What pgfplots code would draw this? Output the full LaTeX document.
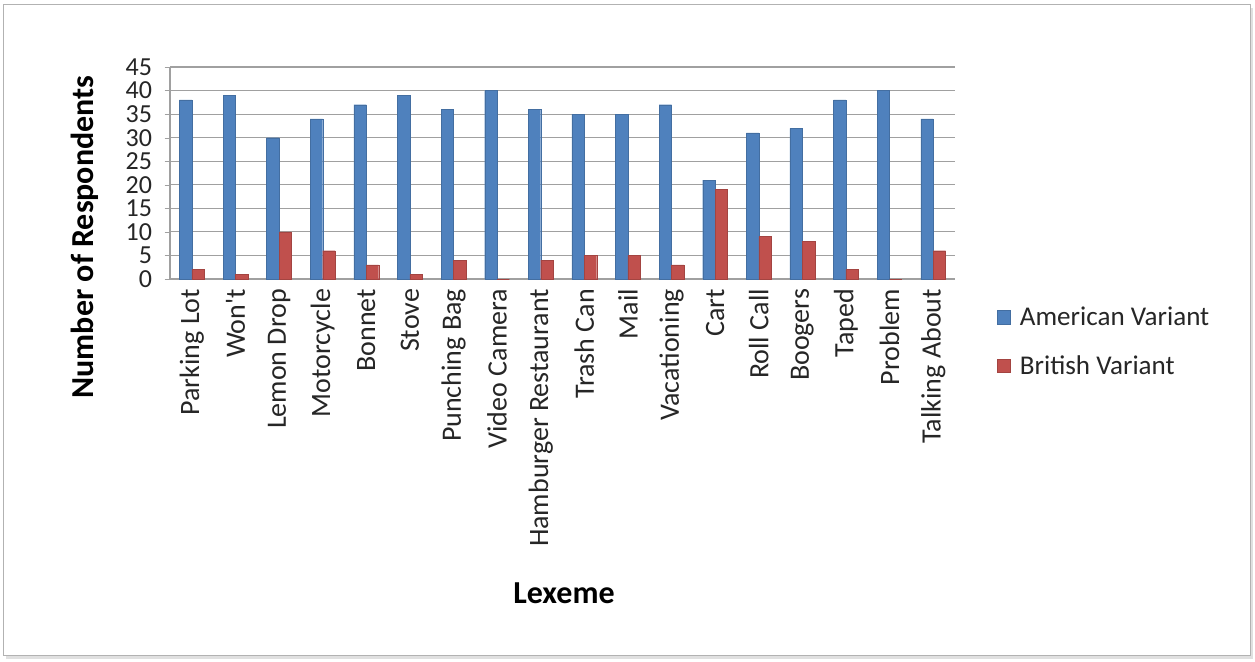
\documentclass[border=0pt]{standalone}
\usepackage{fontspec}
\setmainfont{Carlito}
\usepackage{pgfplots}
\pgfplotsset{compat=1.18}
\definecolor{amblue}{HTML}{4F81BD}
\definecolor{brred}{HTML}{C0504D}
\definecolor{gridgray}{HTML}{A0A0A0}
\begin{document}
\begin{tikzpicture}[x=0.75pt,y=-0.75pt]
\path[use as bounding box] (0,0) rectangle (1255,661);
\fill[black!12] (6,8) rectangle (1253,659);
\fill[white,draw=black!30] (3,4) rectangle (1250,655);
\begin{axis}[
  at={(170*0.75pt,-279*0.75pt)}, anchor=south west,
  scale only axis, width=588.75pt, height=159pt,
  ybar, bar width=9.3pt,
  xmin=-0.5, xmax=17.5, ymin=0, ymax=45,
  ytick={0,5,...,45},
  xtick={0,...,17},
  xticklabels={Parking Lot,Won\textquotesingle t,Lemon Drop,Motorcycle,Bonnet,Stove,Punching Bag,Video Camera,Hamburger Restaurant,Trash Can,Mail,Vacationing,Cart,Roll Call,Boogers,Taped,Problem,Talking About},
  xticklabel style={rotate=90, anchor=east, font=\fontsize{21}{24}\selectfont, text=black!85},
  yticklabel style={font=\fontsize{19.5}{22}\selectfont, text=black!85, xshift=-6pt},
  /pgf/number format/assume math mode=true,
  ymajorgrids, grid style={gridgray, line width=0.9pt},
  axis x line*=bottom, axis y line*=left,
  axis line style={gridgray, line width=0.9pt},
  x axis line style={-}, y axis line style={-},
  xtick style={draw=none},
  ytick style={gridgray},
  tick align=outside, major tick length=4pt,
  legend style={at={(1.048,-0.105)}, anchor=north west, draw=none, fill=none,
    font=\fontsize{20.3}{23}\selectfont, row sep=17pt, text=black!85},
  legend cell align=left,
  legend image code/.code={\fill[#1] (0pt,-5pt) rectangle (10pt,5pt); \path (15pt,0pt);},
]
\addplot[fill=amblue, draw=amblue!85!black, line width=0.2pt, bar shift=-4.65pt] coordinates {
(0,38) (1,39) (2,30) (3,34) (4,37) (5,39) (6,36) (7,40) (8,36) (9,35) (10,35) (11,37) (12,21) (13,31) (14,32) (15,38) (16,40) (17,34)};
\addplot[fill=brred, draw=brred!85!black, line width=0.2pt, bar shift=4.65pt] coordinates {
(0,2) (1,1) (2,10) (3,6) (4,3) (5,1) (6,4) (7,0) (8,4) (9,5) (10,5) (11,3) (12,19) (13,9) (14,8) (15,2) (16,0) (17,6)};
\legend{American Variant, British Variant}
\end{axis}
\node[rotate=90, font=\bfseries\fontsize{24}{28}\selectfont] at (85,237) {Number of Respondents};
\node[font=\bfseries\fontsize{24}{28}\selectfont] at (564,593) {Lexeme};
\end{tikzpicture}
\end{document}
